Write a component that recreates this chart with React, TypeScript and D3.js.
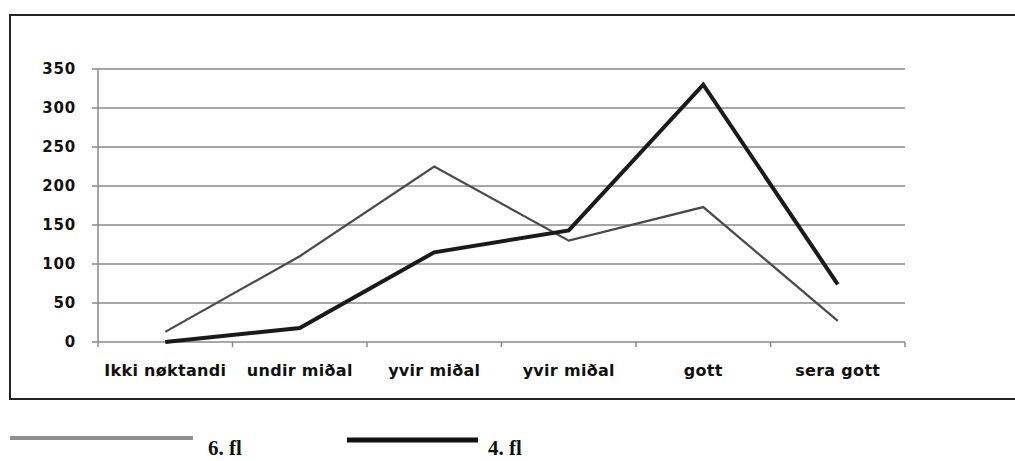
import React from 'react';
import { scaleBand, scaleLinear, line } from 'd3';

const categories = ['Ikki nøktandi', 'undir miðal', 'yvir miðal', 'yvir miðal', 'gott', 'sera gott'];
const fl6 = [13, 110, 225, 130, 173, 27];
const fl4 = [0, 18, 115, 143, 330, 74];
const yTicks = [0, 50, 100, 150, 200, 250, 300, 350];

const App = () => {
  const x = scaleBand().domain(categories.map((_, i) => String(i))).range([98, 905]);
  const y = scaleLinear().domain([0, 350]).range([342, 69]);
  const cx = (i: number) => (x(String(i)) as number) + x.bandwidth() / 2;

  const path = line<number>()
    .x((_, i) => cx(i))
    .y((d) => y(d));

  const tickXs = categories.map((_, i) => x(String(i)) as number).concat([905]);

  return (
    <svg width={1015} height={461} style={{ position: 'absolute', left: 0, top: 0, background: '#fff' }}>
      {/* frame, open on the right */}
      <path d='M1015,15 L10,15 L10,399 L1015,399' fill='none' stroke='#222' strokeWidth={2} />

      {yTicks.map((t) => (
        <g key={t}>
          <line x1={92} x2={905} y1={y(t)} y2={y(t)} stroke='#8a8a8a' strokeWidth={1.5} />
          <text
            x={76}
            y={y(t) + 5}
            textAnchor='end'
            fontFamily='DejaVu Sans'
            fontWeight='bold'
            fontSize={15}
            letterSpacing={0.8}
            fill='#111'
          >
            {t}
          </text>
        </g>
      ))}
      <line x1={98} x2={98} y1={y(350)} y2={y(0)} stroke='#8a8a8a' strokeWidth={1.5} />
      {tickXs.map((t, i) => (
        <line key={i} x1={t} x2={t} y1={y(0)} y2={y(0) + 5} stroke='#8a8a8a' strokeWidth={1.5} />
      ))}

      {categories.map((c, i) => (
        <text
          key={i}
          x={cx(i)}
          y={376}
          textAnchor='middle'
          fontFamily='DejaVu Sans'
          fontWeight='bold'
          fontSize={16}
          letterSpacing={0.3}
          fill='#111'
        >
          {c}
        </text>
      ))}

      <path d={path(fl6) as string} fill='none' stroke='#4a4a4a' strokeWidth={2.2} />
      <path d={path(fl4) as string} fill='none' stroke='#1a1a1a' strokeWidth={4} />

      {/* legend */}
      <line x1={10} x2={193} y1={438} y2={438} stroke='#8f8f8f' strokeWidth={4} />
      <text x={208} y={455} fontFamily='Liberation Serif' fontWeight='bold' fontSize={21} fill='#111'>
        6. fl
      </text>
      <line x1={347} x2={478} y1={440} y2={440} stroke='#111' strokeWidth={5} />
      <text x={488} y={455} fontFamily='Liberation Serif' fontWeight='bold' fontSize={21} fill='#111'>
        4. fl
      </text>
    </svg>
  );
};

export default App;
